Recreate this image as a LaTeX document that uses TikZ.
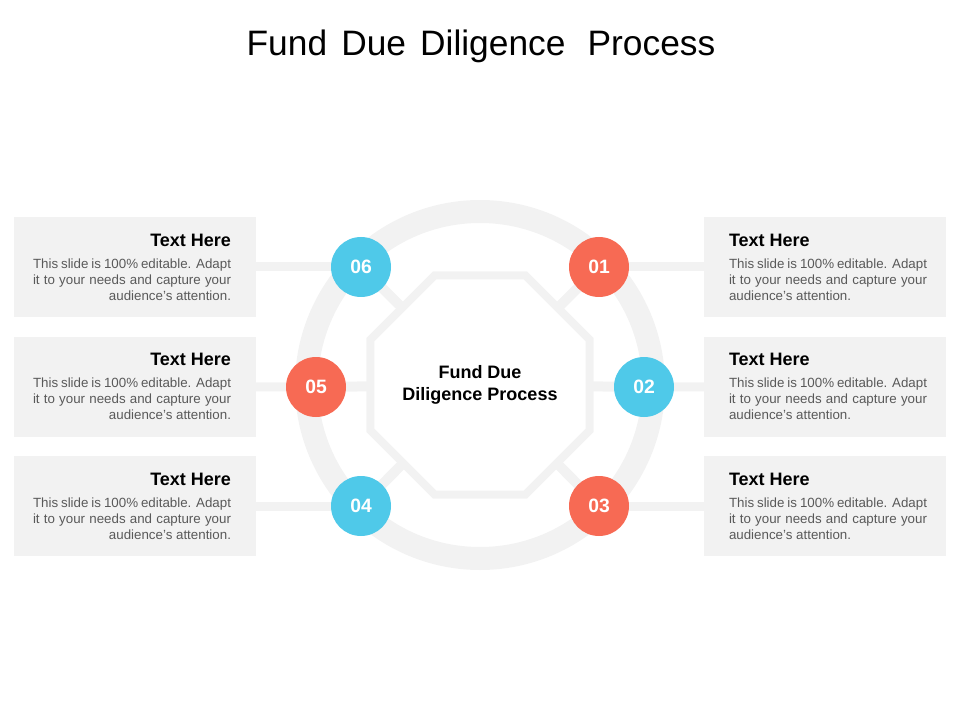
\documentclass[tikz,border=0pt]{standalone}
\usepackage{fontspec}
\setmainfont{Liberation Sans}
\usepackage{xcolor}
\usetikzlibrary{shapes.geometric,backgrounds}
\setlength{\parindent}{0pt}
\definecolor{coral}{RGB}{247,106,84}
\definecolor{sky}{RGB}{79,201,233}
\definecolor{pale}{RGB}{242,242,242}
\definecolor{bodygray}{RGB}{89,89,89}
% card texts, left column flush right and right column flush left
\newcommand{\cardL}{\leftskip=0.75pt\rightskip=5.25pt
  {\fontsize{13.5}{16}\selectfont\bfseries\parfillskip=0pt\hspace*{\fill}Text Here\par}\vspace{4.5pt}
  {\fontsize{10}{12}\selectfont\color{bodygray}\parfillskip=0pt This slide is 100\% editable. Adapt\linebreak it to your needs and capture your\linebreak\hspace*{\fill}audience's attention.\par}}
\newcommand{\cardR}{\leftskip=5.25pt\rightskip=0.75pt
  {\fontsize{13.5}{16}\selectfont\bfseries Text Here\par}\vspace{4.5pt}
  {\fontsize{10}{12}\selectfont\color{bodygray}\parfillskip=0pt plus 1fil This slide is 100\% editable. Adapt\linebreak it to your needs and capture your\linebreak audience's attention.\par}}
\tikzset{
  num/.style={circle,minimum size=45pt,inner sep=0pt,text=white,font=\fontsize{14.5}{17}\selectfont\bfseries},
  card/.style={fill=pale,minimum width=181.5pt,minimum height=75pt,text width=154.5pt,inner xsep=13.5pt,inner ysep=0pt,align=justify},
  spoke/.style={draw=pale,line width=7.5pt},
  link/.style={draw=pale,line width=6.75pt}
}
\begin{document}
\begin{tikzpicture}[x=0.75pt,y=-0.75pt]
\useasboundingbox (0,0) rectangle (960,720);
%\draw[help lines](0,0)grid(960,720);
\node[font=\fontsize{26.5}{30}\selectfont,anchor=base] (title) at (481,56) {\spaceskip=0.4em\relax Fund Due Diligence\hspace{6pt} Process};
% centre octagon
\node[regular polygon,regular polygon sides=8,minimum size=164pt,inner sep=0pt,draw=pale,line width=6pt,fill=white,align=center,font=\fontsize{13.5}{17}\selectfont\bfseries] (hub) at (480,385) {Fund Due\\Diligence Process};
% numbered circles
\node[num,fill=coral] (n1) at (599,267) {01};
\node[num,fill=sky] (n2) at (644,387) {02};
\node[num,fill=coral] (n3) at (599,506) {03};
\node[num,fill=sky] (n4) at (361,506) {04};
\node[num,fill=coral] (n5) at (316,387) {05};
\node[num,fill=sky] (n6) at (361,267) {06};
% text cards
\node[card] (b1) at (825,267) {\cardR};
\node[card] (b2) at (825,386.5) {\cardR};
\node[card] (b3) at (825,506) {\cardR};
\node[card] (b4) at (135,506) {\cardL};
\node[card] (b5) at (135,386.5) {\cardL};
\node[card] (b6) at (135,267) {\cardL};
\begin{pgfonlayer}{background}
\draw[pale,line width=17.25pt] (hub.center) circle[radius=173.5];
\foreach \n in {1,...,6}{
  \draw[spoke] (n\n.center)--(hub.center);
  \draw[link] (n\n.center)--(b\n.center);
}
\end{pgfonlayer}
\end{tikzpicture}
\end{document}
